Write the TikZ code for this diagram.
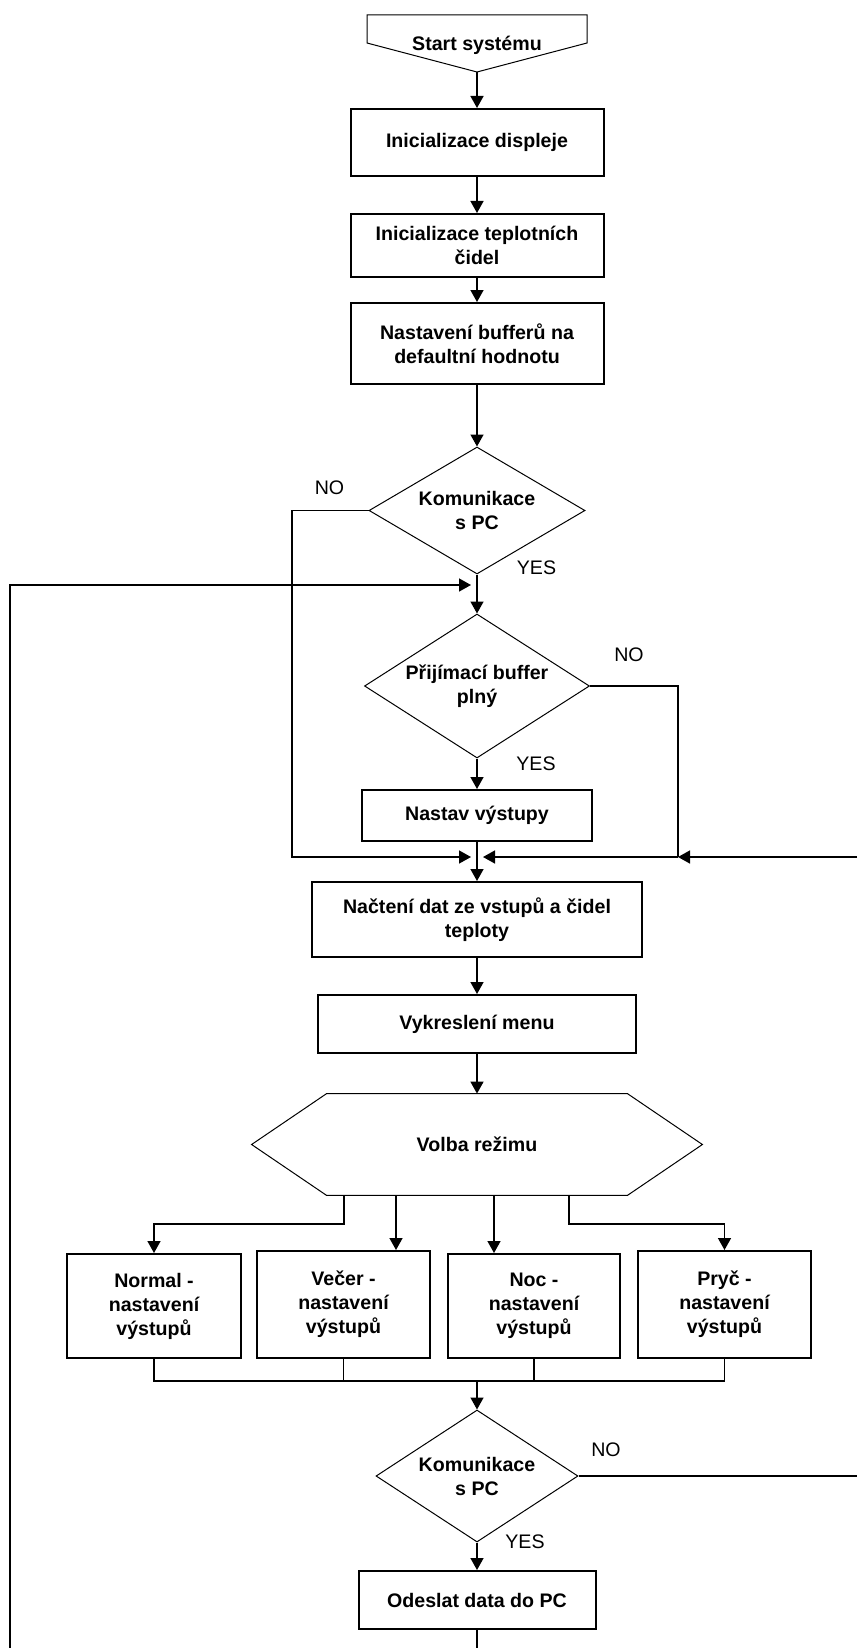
\documentclass[tikz,border=0pt]{standalone}
\usepackage{fontspec}
\setmainfont{Liberation Sans}
\usetikzlibrary{shapes.geometric,arrows.meta,calc}

\begin{document}
\begin{tikzpicture}[x=0.5pt, y=-0.5pt,
    every node/.style={font=\fontsize{9.8}{12}\selectfont},
    line/.style={line width=0.75pt},
    arrow/.style={line, -{Triangle[length=6pt,width=6.5pt]}},
    proc/.style={draw, line width=1pt, align=center, inner sep=2pt,
        font=\fontsize{9.8}{12}\selectfont\bfseries},
    decision/.style={draw, diamond, line width=0.5pt, align=center, inner sep=0pt,
        font=\fontsize{9.8}{12}\selectfont\bfseries},
    answer/.style={inner sep=0pt}]
    \useasboundingbox (0,0) rectangle (857,1648);

    % start
    \node[font=\fontsize{9.8}{12}\selectfont\bfseries, inner sep=0pt] (start) at (477,45) {Start systému};
    \draw[line width=0.5pt] (367,15) -- (587,15) -- (587,43) -- (477,72) -- (367,43) -- cycle;
    \coordinate (starttip) at (477,72);

    % initialisation
    \node[proc, minimum width=126.5pt, minimum height=33.5pt] (disp) at (477,142.5) {Inicializace displeje};
    \node[proc, minimum width=126.5pt, minimum height=31.5pt] (sens) at (477,245.5) {Inicializace teplotních\\čidel};
    \node[proc, minimum width=126.5pt, minimum height=40.5pt] (bufs) at (477,343.5) {Nastavení bufferů na\\defaultní hodnotu};

    % communication with PC
    \node[decision, aspect=1.7, minimum width=108pt, minimum height=63.5pt] (pc1) at (477,510.5) {Komunikace\\s PC};
    \node[decision, aspect=1.56, minimum width=112.5pt, minimum height=72pt] (full) at (477,686) {Přijímací buffer\\plný};
    \node[proc, minimum width=115pt, minimum height=25.5pt] (outs) at (477,815.5) {Nastav výstupy};

    % main loop
    \node[proc, minimum width=165pt, minimum height=37.5pt] (read) at (477,919.5) {Načtení dat ze vstupů a čidel\\teploty};
    \node[proc, minimum width=159pt, minimum height=29pt] (menu) at (477,1024) {Vykreslení menu};
    \node[font=\fontsize{9.8}{12}\selectfont\bfseries, inner sep=0pt, minimum width=150pt, minimum height=50.5pt] (mode) at (477,1144.5) {Volba režimu};
    \draw[line width=0.5pt] (mode.north west) -- (mode.north east) -- ($(mode.east)+(75,0)$)
        -- (mode.south east) -- (mode.south west) -- ($(mode.west)+(-75,0)$) -- cycle;

    % modes
    \node[proc, minimum width=87pt, minimum height=52pt] (normal) at (154,1306) {Normal -\\nastavení\\výstupů};
    \node[proc, minimum width=86.5pt, minimum height=53.5pt] (evening) at (343.5,1304.5) {Večer -\\nastavení\\výstupů};
    \node[proc, minimum width=86pt, minimum height=52pt] (night) at (534,1306) {Noc -\\nastavení\\výstupů};
    \node[proc, minimum width=86.5pt, minimum height=53.5pt] (away) at (724.5,1304.5) {Pryč -\\nastavení\\výstupů};

    % send to PC
    \node[decision, aspect=1.53, minimum width=101pt, minimum height=66pt] (pc2) at (477,1476) {Komunikace\\s PC};
    \node[proc, minimum width=118.5pt, minimum height=29pt] (send) at (477,1600) {Odeslat data do PC};

    % YES / NO
    \node[answer] (no1) at (329.5,487.5) {NO};
    \node[answer] (yes1) at (536.5,567.5) {YES};
    \node[answer] (no2) at (629,655) {NO};
    \node[answer] (yes2) at (536,764) {YES};
    \node[answer] (no3) at (606,1450) {NO};
    \node[answer] (yes3) at (525,1542) {YES};

    % free ends and joints
    \coordinate (busL) at (292,857);
    \coordinate (inL) at (471,857);
    \coordinate (busR) at (678,857);
    \coordinate (inR) at (483,857);
    \coordinate (edgeR) at (857,857);
    \coordinate (edgeBL) at (10,1648);
    \coordinate (loopTL) at (10,585);
    \coordinate (loopIn) at (471,585);
    \coordinate (edgeB) at (477,1648);
    \coordinate (edgeR2) at (857,1476);
    \coordinate (collect) at (477,1381);
    \coordinate (m1) at ($(mode.south)+(-133,0)$);
    \coordinate (m2) at ($(mode.south)+(-81,0)$);
    \coordinate (m3) at ($(mode.south)+(17,0)$);
    \coordinate (m4) at ($(mode.south)+(92,0)$);

    % connectors
    \draw[arrow] (starttip) -- (disp);
    \draw[arrow] (disp) -- (sens);
    \draw[arrow] (sens) -- (bufs);
    \draw[arrow] (bufs) -- (pc1);
    \draw[arrow] (pc1) -- (full);
    \draw[arrow] (full) -- (outs);
    \draw[arrow] (outs) -- (read);
    \draw[arrow] (read) -- (menu);
    \draw[arrow] (menu) -- (mode);

    \draw[arrow] (pc1.west) -| (busL) -- (inL);
    \draw[line] (full.east) -| (busR);
    \draw[arrow] (edgeR) -- (busR);
    \draw[arrow] (busR) -- (inR);
    \draw[arrow] (edgeBL) -- (loopTL) -- (loopIn);

    \draw[arrow] (m1) |- ($(normal.north)+(0,-29)$) -- (normal.north);
    \draw[arrow] (m2) -- (m2 |- evening.north);
    \draw[arrow] (m3) -- (m3 |- night.north);
    \draw[arrow] (m4) |- ($(away.north)+(0,-26)$) -- (away.north);

    \draw[line] (normal.south) |- (away.south |- collect) -- (away.south);
    \draw[line] (evening.south) -- (evening.south |- collect);
    \draw[line] (night.south) -- (night.south |- collect);
    \draw[arrow] (collect) -- (pc2);

    \draw[arrow] (pc2) -- (send);
    \draw[line] (pc2.east) -- (edgeR2);
    \draw[line] (send) -- (edgeB);
\end{tikzpicture}
\end{document}
